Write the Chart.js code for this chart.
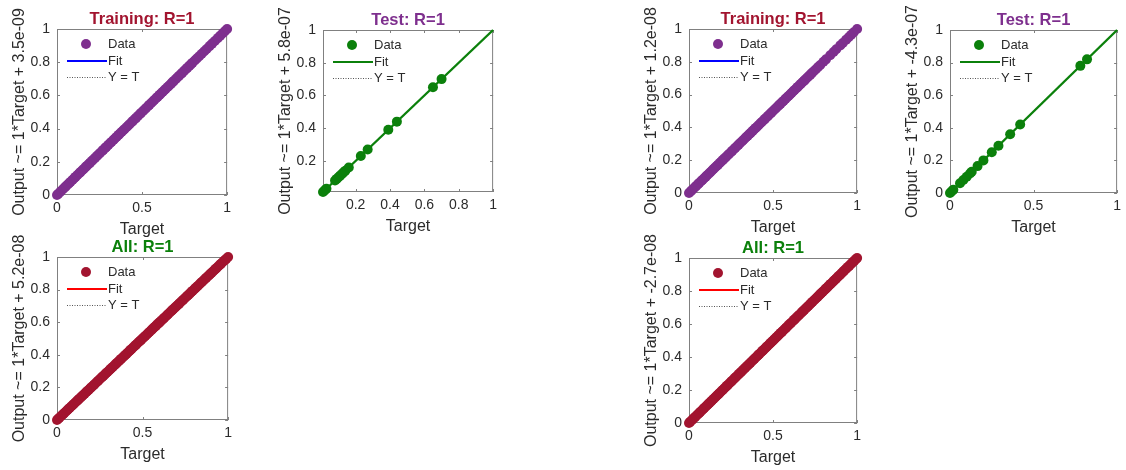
<!DOCTYPE html>
<html>
<head>
<meta charset="utf-8">
<script src="https://cdn.jsdelivr.net/npm/chart.js@4.4.1/dist/chart.umd.min.js"></script>
<style>
  body { margin: 0; background: #fff; width: 1126px; height: 470px; position: relative; overflow: hidden; }
  canvas { position: absolute; }
</style>
</head>
<body>
<canvas id="trainL"></canvas>
<canvas id="testL"></canvas>
<canvas id="allL"></canvas>
<canvas id="trainR"></canvas>
<canvas id="testR"></canvas>
<canvas id="allR"></canvas>
<script>
// Targets of each set (outputs sit on the diagonal, R = 1)
const trainTargetL = [0, 0.008, 0.017, 0.024, 0.036, 0.045, 0.052, 0.063, 0.071, 0.08, 0.092, 0.101, 0.109, 0.12, 0.131,
  0.138, 0.149, 0.157, 0.168, 0.176, 0.187, 0.195, 0.206, 0.214, 0.225, 0.236, 0.244, 0.253, 0.265, 0.272, 0.284, 0.291,
  0.302, 0.313, 0.321, 0.333, 0.34, 0.351, 0.362, 0.37, 0.381, 0.39, 0.398, 0.41, 0.419, 0.428, 0.44, 0.447, 0.458, 0.466,
  0.477, 0.488, 0.495, 0.506, 0.515, 0.524, 0.536, 0.543, 0.554, 0.563, 0.572, 0.584, 0.592, 0.603, 0.611, 0.622, 0.631,
  0.64, 0.652, 0.66, 0.671, 0.68, 0.688, 0.7, 0.709, 0.718, 0.729, 0.737, 0.748, 0.757, 0.766, 0.778, 0.787, 0.796, 0.81,
  0.822, 0.836, 0.851, 0.866, 0.88, 0.897, 0.912, 0.928, 0.945, 0.96, 0.975, 0.988, 1];
const testTargetL = [0.01, 0.02, 0.03, 0.08, 0.09, 0.1, 0.11, 0.12, 0.13, 0.14, 0.16, 0.23, 0.27, 0.39, 0.44, 0.65, 0.7];
const allTargetL = [0, 0.006, 0.014, 0.021, 0.029, 0.037, 0.043, 0.052, 0.06, 0.067, 0.075, 0.084, 0.091, 0.098, 0.107,
  0.115, 0.122, 0.13, 0.139, 0.146, 0.153, 0.162, 0.17, 0.177, 0.186, 0.193, 0.2, 0.209, 0.217, 0.224, 0.233, 0.241, 0.248,
  0.256, 0.265, 0.272, 0.28, 0.288, 0.295, 0.304, 0.312, 0.319, 0.327, 0.336, 0.343, 0.351, 0.359, 0.366, 0.375, 0.383,
  0.39, 0.398, 0.407, 0.414, 0.422, 0.43, 0.437, 0.446, 0.454, 0.461, 0.469, 0.478, 0.485, 0.493, 0.501, 0.508, 0.517,
  0.525, 0.532, 0.54, 0.549, 0.556, 0.564, 0.572, 0.579, 0.588, 0.596, 0.603, 0.611, 0.62, 0.627, 0.635, 0.643, 0.65,
  0.659, 0.667, 0.674, 0.682, 0.691, 0.698, 0.706, 0.714, 0.721, 0.73, 0.738, 0.745, 0.753, 0.762, 0.769, 0.777, 0.785,
  0.792, 0.801, 0.809, 0.816, 0.824, 0.833, 0.84, 0.848, 0.856, 0.863, 0.872, 0.88, 0.887, 0.895, 0.904, 0.911, 0.919,
  0.927, 0.934, 0.943, 0.951, 0.958, 0.966, 0.975, 0.982, 0.99, 1];
const trainTargetR = [0, 0.009, 0.016, 0.027, 0.035, 0.044, 0.054, 0.062, 0.073, 0.081, 0.09, 0.1, 0.108, 0.119, 0.127,
  0.137, 0.146, 0.155, 0.165, 0.173, 0.184, 0.192, 0.202, 0.211, 0.22, 0.23, 0.238, 0.249, 0.257, 0.267, 0.276, 0.285,
  0.295, 0.303, 0.314, 0.322, 0.332, 0.341, 0.35, 0.36, 0.368, 0.379, 0.387, 0.397, 0.406, 0.415, 0.425, 0.433, 0.444,
  0.452, 0.462, 0.471, 0.48, 0.49, 0.498, 0.509, 0.517, 0.527, 0.536, 0.545, 0.555, 0.563, 0.574, 0.582, 0.592, 0.601,
  0.61, 0.62, 0.628, 0.639, 0.647, 0.657, 0.666, 0.675, 0.685, 0.693, 0.704, 0.712, 0.722, 0.731, 0.742, 0.755, 0.768,
  0.781, 0.8, 0.815, 0.84, 0.86, 0.876, 0.9, 0.915, 0.935, 0.95, 0.965, 0.98, 1];
const testTargetR = [0, 0.01, 0.02, 0.06, 0.08, 0.1, 0.12, 0.13, 0.165, 0.2, 0.25, 0.29, 0.36, 0.42, 0.78, 0.82];
const allTargetR = [0, 0.007, 0.015, 0.022, 0.03, 0.038, 0.045, 0.053, 0.061, 0.068, 0.076, 0.085, 0.092, 0.1, 0.108,
  0.115, 0.123, 0.131, 0.138, 0.147, 0.155, 0.162, 0.17, 0.178, 0.185, 0.194, 0.202, 0.209, 0.217, 0.225, 0.232, 0.241,
  0.249, 0.256, 0.264, 0.272, 0.279, 0.288, 0.296, 0.303, 0.311, 0.319, 0.326, 0.335, 0.343, 0.35, 0.358, 0.366, 0.373,
  0.382, 0.39, 0.397, 0.405, 0.413, 0.42, 0.429, 0.437, 0.444, 0.452, 0.46, 0.467, 0.476, 0.484, 0.491, 0.499, 0.507,
  0.514, 0.523, 0.531, 0.538, 0.546, 0.554, 0.561, 0.57, 0.578, 0.585, 0.593, 0.601, 0.608, 0.617, 0.625, 0.632, 0.64,
  0.648, 0.655, 0.664, 0.672, 0.679, 0.687, 0.695, 0.702, 0.711, 0.719, 0.726, 0.734, 0.742, 0.749, 0.758, 0.766, 0.773,
  0.781, 0.789, 0.796, 0.805, 0.813, 0.82, 0.828, 0.836, 0.843, 0.852, 0.86, 0.867, 0.875, 0.883, 0.89, 0.899, 0.907,
  0.914, 0.922, 0.93, 0.937, 0.946, 0.954, 0.961, 0.969, 0.977, 0.984, 0.993, 1];

// Regression results per panel
const rValues = [1, 1, 1, 1, 1, 1];
const fitSlopes = [1, 1, 1, 1, 1, 1];
const fitIntercepts = [3.5e-9, 5.8e-7, 5.2e-8, 1.2e-8, -4.3e-7, -2.7e-8];

// Tick labels
const ticksFull = [0, 0.2, 0.4, 0.6, 0.8, 1];
const ticksHalf = [0, 0.5, 1];
const ticksNoZero = [0.2, 0.4, 0.6, 0.8, 1];

const FONT = "'Liberation Sans', Arial, Helvetica, sans-serif";
const TEXT = '#2b2b2b';
const PURPLE = '#7E2F8E', GREEN = '#0B800B', DARKRED = '#A2142F';

// exponent with two digits, like 3.5e-09
function expo(v) {
  const parts = v.toExponential(1).split('e');
  const sign = parts[1][0];
  return parts[0] + 'e' + sign + parts[1].slice(1).padStart(2, '0');
}

const panels = [
  { id: 'trainL', name: 'Training', k: 0, targets: trainTargetL, min: 0, max: 1, xTicks: ticksHalf, yTicks: ticksFull,
    color: PURPLE, fit: '#0000FF', titleColor: DARKRED, box: [57, 29, 228, 195] },
  { id: 'testL', name: 'Test', k: 1, targets: testTargetL, min: 0.01, max: 1, xTicks: ticksNoZero, yTicks: ticksNoZero,
    color: GREEN, fit: GREEN, titleColor: PURPLE, box: [323, 30, 494, 192] },
  { id: 'allL', name: 'All', k: 2, targets: allTargetL, min: 0, max: 1, xTicks: ticksHalf, yTicks: ticksFull,
    color: DARKRED, fit: '#FF0000', titleColor: GREEN, box: [57, 257, 229, 420] },
  { id: 'trainR', name: 'Training', k: 3, targets: trainTargetR, min: 0, max: 1, xTicks: ticksHalf, yTicks: ticksFull,
    color: PURPLE, fit: '#0000FF', titleColor: DARKRED, box: [689, 29, 858, 193] },
  { id: 'testR', name: 'Test', k: 4, targets: testTargetR, min: 0, max: 1, xTicks: ticksHalf, yTicks: ticksFull,
    color: GREEN, fit: GREEN, titleColor: PURPLE, box: [950, 30, 1118, 193] },
  { id: 'allR', name: 'All', k: 5, targets: allTargetR, min: 0, max: 1, xTicks: ticksHalf, yTicks: ticksFull,
    color: DARKRED, fit: '#FF0000', titleColor: GREEN, box: [689, 258, 858, 423] }
];

const PAD_L = 57, PAD_T = 29, PAD_R = 8, PAD_B = 46;

// axes box with inward ticks, MATLAB style, plus title and legend
const framePlugin = {
  id: 'frame',
  beforeDatasetsDraw(chart) {
    const { ctx, chartArea: a, scales } = chart;
    ctx.save();
    ctx.strokeStyle = '#808080';
    ctx.lineWidth = 1;
    ctx.strokeRect(a.left + 0.5, a.top + 0.5, a.right - a.left - 1, a.bottom - a.top - 1);
    ctx.beginPath();
    scales.x.ticks.forEach(t => {
      const x = Math.round(scales.x.getPixelForValue(t.value)) + 0.5;
      ctx.moveTo(x, a.bottom); ctx.lineTo(x, a.bottom - 3);
      ctx.moveTo(x, a.top); ctx.lineTo(x, a.top + 3);
    });
    scales.y.ticks.forEach(t => {
      const y = Math.round(scales.y.getPixelForValue(t.value)) + 0.5;
      ctx.moveTo(a.left, y); ctx.lineTo(a.left + 3, y);
      ctx.moveTo(a.right, y); ctx.lineTo(a.right - 3, y);
    });
    ctx.stroke();
    ctx.restore();
  },
  afterDraw(chart, args, opts) {
    const { ctx, chartArea: a } = chart;
    const ds = chart.data.datasets;
    ctx.save();
    // title
    ctx.font = 'bold 16.5px ' + FONT;
    ctx.fillStyle = opts.titleColor;
    ctx.textAlign = 'center';
    ctx.textBaseline = 'middle';
    ctx.fillText(opts.title, (a.left + a.right) / 2, a.top - 10);
    // legend
    ctx.font = '13px ' + FONT;
    ctx.fillStyle = TEXT;
    ctx.textAlign = 'left';
    const lx = a.left + 10, tx = a.left + 51;
    ctx.fillText(ds[0].label, tx, a.top + 15);
    ctx.fillText(ds[1].label, tx, a.top + 32);
    ctx.fillText(ds[2].label, tx, a.top + 48);
    ctx.fillStyle = ds[0].backgroundColor;
    ctx.beginPath();
    ctx.arc(a.left + 29, a.top + 15, 5, 0, Math.PI * 2);
    ctx.fill();
    ctx.strokeStyle = ds[1].borderColor;
    ctx.lineWidth = 2.2;
    ctx.beginPath();
    ctx.moveTo(lx, a.top + 32); ctx.lineTo(lx + 40, a.top + 32);
    ctx.stroke();
    ctx.strokeStyle = ds[2].borderColor;
    ctx.lineWidth = 1;
    ctx.setLineDash([1, 1.5]);
    ctx.beginPath();
    ctx.moveTo(lx, a.top + 48.5); ctx.lineTo(lx + 40, a.top + 48.5);
    ctx.stroke();
    ctx.restore();
  }
};

panels.forEach(p => {
  const [bl, bt, br, bb] = p.box;
  const canvas = document.getElementById(p.id);
  canvas.width = (br - bl) + PAD_L + PAD_R;
  canvas.height = (bb - bt) + PAD_T + PAD_B;
  canvas.style.left = (bl - PAD_L) + 'px';
  canvas.style.top = (bt - PAD_T) + 'px';

  const slope = fitSlopes[p.k], icpt = fitIntercepts[p.k];
  const points = p.targets.map(t => ({ x: t, y: t }));
  const fitLine = [p.min, p.max].map(x => ({ x: x, y: slope * x + icpt }));
  const yLabel = 'Output ~= ' + slope + '*Target + ' + expo(icpt);

  new Chart(canvas, {
    type: 'scatter',
    data: {
      datasets: [
        { label: 'Data', data: points, backgroundColor: p.color, borderColor: p.color, pointRadius: 5,
          borderWidth: 0, clip: false, order: 0 },
        { type: 'line', label: 'Fit', data: fitLine, borderColor: p.fit, borderWidth: 2.4, pointRadius: 0,
          fill: false, clip: false, order: 1 },
        { type: 'line', label: 'Y = T', data: [{ x: p.min, y: p.min }, { x: p.max, y: p.max }], borderColor: '#555',
          borderWidth: 1, borderDash: [1, 1.5], pointRadius: 0, fill: false, order: 2 }
      ]
    },
    options: {
      responsive: false,
      animation: false,
      events: [],
      layout: { padding: { top: PAD_T, right: PAD_R, left: 0, bottom: 0 } },
      plugins: {
        legend: { display: false },
        tooltip: { enabled: false },
        frame: { title: p.name + ': R=' + rValues[p.k], titleColor: p.titleColor }
      },
      scales: {
        x: {
          type: 'linear', min: p.min, max: p.max,
          grid: { display: false, drawTicks: false },
          border: { display: false },
          afterBuildTicks: s => { s.ticks = p.xTicks.map(v => ({ value: v })); },
          afterFit: s => { s.height = PAD_B; },
          ticks: { autoSkip: false, maxRotation: 0, padding: 5, color: TEXT, font: { family: FONT, size: 14 },
            callback: v => String(v) },
          title: { display: true, text: 'Target', color: TEXT, font: { family: FONT, size: 16 },
            padding: { top: 0, bottom: 2 } }
        },
        y: {
          type: 'linear', min: p.min, max: p.max,
          grid: { display: false, drawTicks: false },
          border: { display: false },
          afterBuildTicks: s => { s.ticks = p.yTicks.map(v => ({ value: v })); },
          afterFit: s => { s.width = PAD_L; },
          ticks: { autoSkip: false, padding: 7, color: TEXT, font: { family: FONT, size: 14 },
            callback: v => String(v) },
          title: { display: true, text: yLabel, color: TEXT, font: { family: FONT, size: 16 },
            padding: { top: 10, bottom: 0 } }
        }
      }
    },
    plugins: [framePlugin]
  });
});
</script>
</body>
</html>
